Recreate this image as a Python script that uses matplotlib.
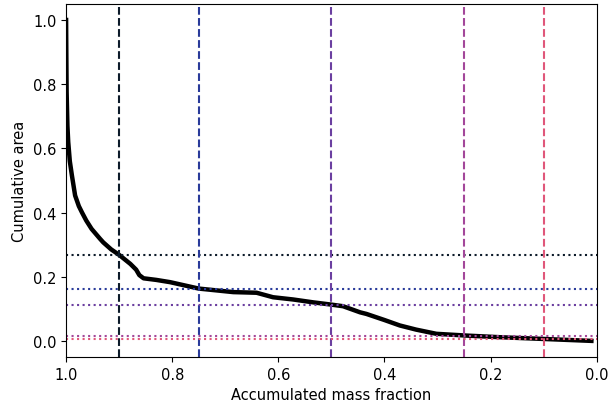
import numpy as np
import matplotlib.pyplot as plt

plt.rcParams['font.size'] = 10.5

# accumulated mass fraction vs cumulative area
mass_frac = [1.0, 0.9995, 0.999, 0.9975, 0.996, 0.993, 0.989, 0.983, 0.976, 0.970,
             0.962, 0.952, 0.936, 0.930, 0.915, 0.900, 0.879, 0.868, 0.862, 0.854,
             0.83, 0.804, 0.75, 0.685, 0.641, 0.61, 0.572, 0.534, 0.5, 0.478,
             0.446, 0.434, 0.40, 0.371, 0.34, 0.302, 0.245, 0.183, 0.1, 0.01]
cum_area = [1.0, 0.88, 0.775, 0.67, 0.62, 0.56, 0.515, 0.453, 0.42, 0.40,
            0.375, 0.349, 0.318, 0.307, 0.285, 0.268, 0.24, 0.222, 0.205, 0.195,
            0.19, 0.183, 0.163, 0.152, 0.15, 0.136, 0.129, 0.12, 0.113, 0.108,
            0.089, 0.084, 0.065, 0.048, 0.035, 0.022, 0.0165, 0.0115, 0.006, 0.0]

# thresholds and the area where the curve crosses them
thresholds = [0.9, 0.75, 0.5, 0.25, 0.1]
cross_area = [0.268, 0.163, 0.113, 0.0165, 0.006]
colors = ['#0d1b2a', '#2a3b9a', '#6b3fa0', '#a3479a', '#e0577a']

fig = plt.figure(figsize=(6.12, 4.1), dpi=100)
ax = fig.add_axes([0.108, 0.127, 0.867, 0.861])

ax.plot(mass_frac, cum_area, color='black', lw=3.2)
for t, a, c in zip(thresholds, cross_area, colors):
    ax.axvline(t, color=c, ls='--', lw=1.5)
    ax.axhline(a, color=c, ls=':', lw=1.5)

ax.set_xlim(1.0, 0.0)
ax.set_ylim(-0.05, 1.05)
ax.set_xlabel('Accumulated mass fraction')
ax.set_ylabel('Cumulative area')

fig.savefig('out.png', dpi=100)
